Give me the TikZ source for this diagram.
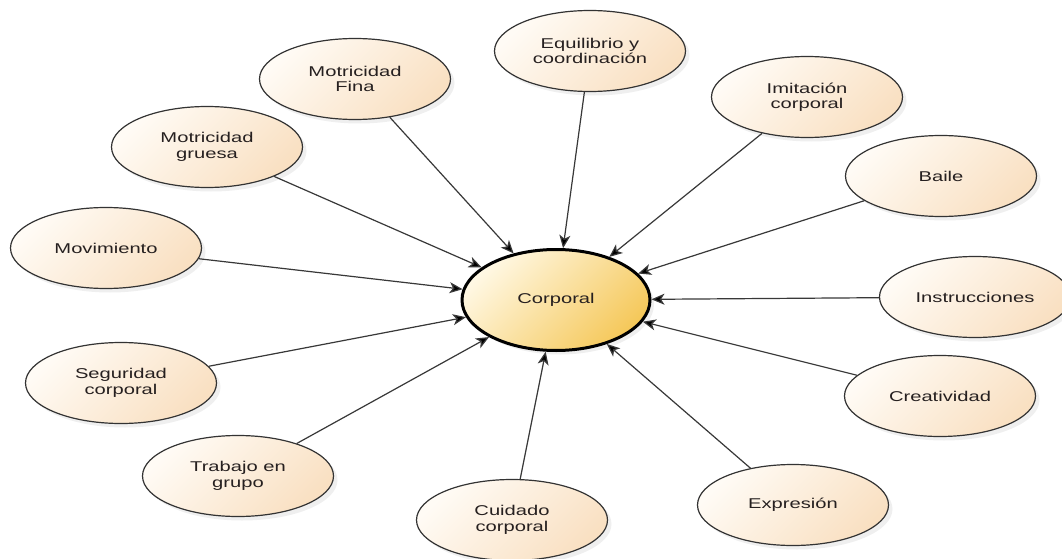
\documentclass[tikz,border=0pt]{standalone}
\usepackage{fontspec}
\setmainfont{Liberation Sans}[FakeStretch=1.42]
\definecolor{conceptlight}{RGB}{255,251,245}
\definecolor{conceptpeach}{RGB}{249,224,194}
\definecolor{corelight}{RGB}{255,248,228}
\definecolor{coregold}{RGB}{245,200,90}
\definecolor{inktext}{RGB}{38,32,32}
\usepackage{tikz}
\usetikzlibrary{shapes,arrows.meta,shadows}

\tikzset{
  concept/.style={ellipse,draw=black!80,line width=1.2pt,
    minimum width=191pt,minimum height=81pt,inner sep=0pt,
    align=center,text=inktext,font=\fontsize{14.2}{15.5}\selectfont,
    top color=conceptlight,bottom color=conceptpeach,shading angle=45,
    drop shadow={opacity=0.12,shadow xshift=4pt,shadow yshift=-4pt}},
  core/.style={concept,draw=black,line width=3pt,
    minimum width=188pt,minimum height=101pt,
    top color=corelight,bottom color=coregold,shading angle=45},
  link/.style={draw=black!78,line width=1.2pt,
    -{Stealth[length=13pt,width=11pt,inset=3.5pt,fill=black]}}
}

\begin{document}
\begin{tikzpicture}[x=1pt,y=-1pt]
            \path[use as bounding box,fill=white] (0,0) rectangle (1062,559);

            \node[core] (corp) at (556,300) {Corporal};

            \node[concept] (movim) at (106,248) {Movimiento};
            \node[concept] (gruesa) at (207,147) {Motricidad\\gruesa};
            \node[concept] (fina) at (355,79) {Motricidad\\Fina};
            \node[concept] (equil) at (590,51) {Equilibrio y\\coordinación};
            \node[concept] (imit) at (807,97) {Imitación\\corporal};
            \node[concept] (baile) at (941,176) {Baile};
            \node[concept] (instr) at (975,297) {Instrucciones};
            \node[concept] (creat) at (940,396) {Creatividad};
            \node[concept] (expr) at (793,505) {Expresión};
            \node[concept] (cuid) at (512,520) {Cuidado\\corporal};
            \node[concept] (trab) at (238,476) {Trabajo en\\grupo};
            \node[concept] (segur) at (121,383) {Seguridad\\corporal};

            \foreach \n in {movim,gruesa,fina,equil,imit,baile,instr,creat,expr,cuid,trab,segur}
                \draw[link] (\n) -- (corp);
        \end{tikzpicture}
\end{document}
